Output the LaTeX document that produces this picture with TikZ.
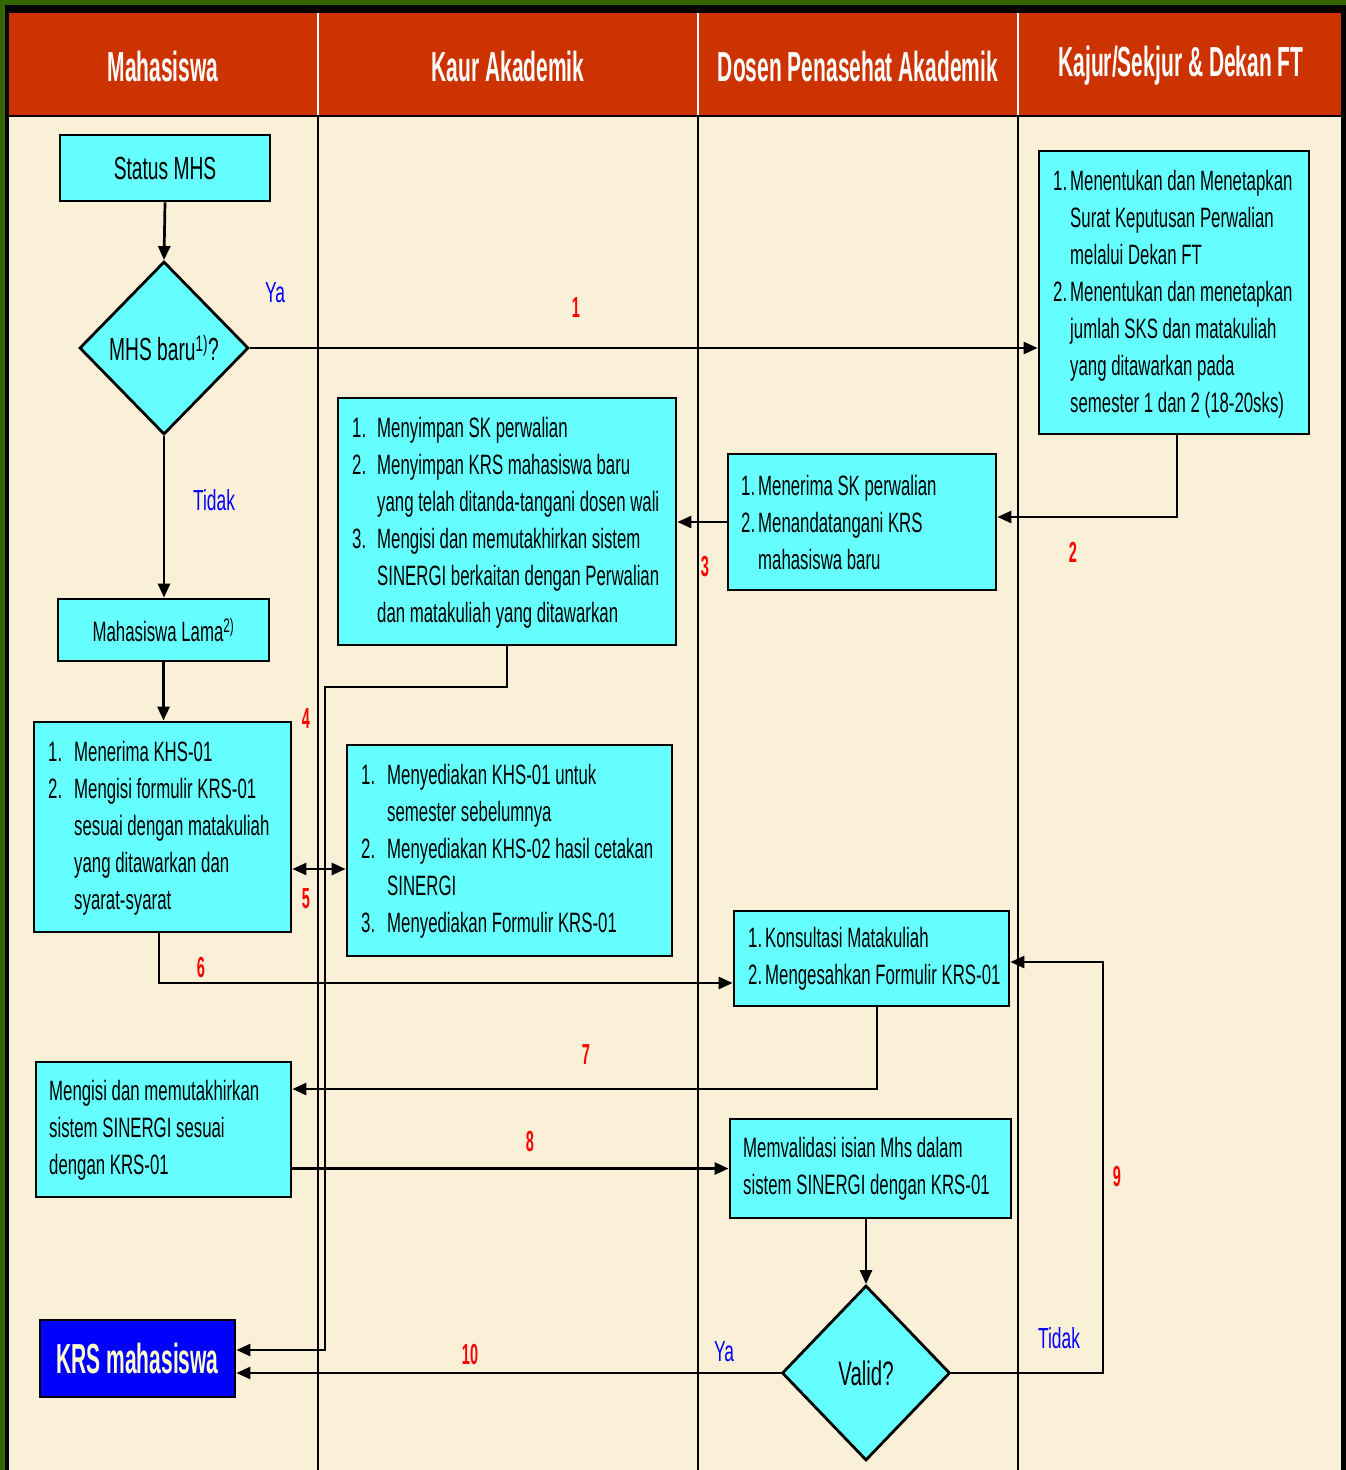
\documentclass[tikz,border=0pt]{standalone}
\usepackage{fontspec}
\setmainfont{Liberation Sans}[FakeStretch=0.6]
\newfontfamily\bnarrow{Liberation Sans}[FakeStretch=0.5]
\usetikzlibrary{arrows.meta,shapes.geometric}
\definecolor{bggreen}{RGB}{51,102,0}
\definecolor{hdred}{RGB}{204,51,0}
\definecolor{cream}{RGB}{250,240,216}
\definecolor{cyanc}{RGB}{102,255,255}
\definecolor{krsblue}{RGB}{0,0,255}
\definecolor{krstext}{RGB}{255,255,204}
\newcommand\nb[2]{\makebox[#1][l]{#2}}
\newcommand\ind[1]{\hspace*{#1}}
\tikzset{
  box/.style={draw=black, line width=2.8pt, fill=cyanc, inner sep=0pt},
  dia/.style={diamond, draw=black, line width=2.8pt, fill=cyanc, inner sep=0pt, aspect=1},
  txt/.style={font=\fontsize{28}{37}\selectfont, align=left, inner sep=0pt, anchor=west},
  arr/.style={line width=2.7pt, -{Triangle[length=14pt,width=12pt]}},
  dbl/.style={line width=2.7pt, {Triangle[length=14pt,width=12pt]}-{Triangle[length=14pt,width=12pt]}},
  lbl/.style={text=red, font=\bnarrow\bfseries\fontsize{29}{30}\selectfont, inner sep=0pt},
  yn/.style={text=blue, font=\fontsize{29}{30}\selectfont, inner sep=0pt},
  hd/.style={text=white, font=\bnarrow\bfseries\fontsize{42}{44}\selectfont, inner sep=0pt},
  lane/.style={line width=2pt}
}
\begin{document}
\begin{tikzpicture}[x=1pt,y=-1pt]
\useasboundingbox (0,0) rectangle (1346,1470);
% frame and background
\fill[bggreen] (0,0) rectangle (1346,1470);
\fill[black] (5,5) rectangle (1346,1470);
\fill[hdred] (9,13) rectangle (1341,115);
\fill[cream] (9,117) rectangle (1341,1470);
\foreach \x in {318,698,1018} {
  \draw[lane, white] (\x,13) -- (\x,115);
  \draw[lane, black] (\x,117) -- (\x,1470);
}
% headers
\node[hd] (h1) at (163,66) {Mahasiswa};
\node[hd] (h2) at (508,66) {Kaur Akademik};
\node[hd] (h3) at (858,66) {Dosen Penasehat Akademik};
\node[hd] (h4) at (1181,66) {Kajur/Sekjur \& Dekan FT};

% boxes
\node[box, minimum width=210pt, minimum height=66pt, font=\fontsize{32}{36}\selectfont] (st) at (165,168) {Status MHS};
\node[dia, minimum width=169pt, minimum height=173pt, font=\fontsize{32}{36}\selectfont] (d1) at (164,348) {MHS baru\textsuperscript{1)}?};
\node[box, minimum width=211pt, minimum height=62pt, font=\fontsize{28}{32}\selectfont] (ml) at (163.5,630) {Mahasiswa Lama\textsuperscript{2)}};
\node[box, minimum width=257pt, minimum height=210pt] (b4) at (162.5,827) {};
\node[box, minimum width=338pt, minimum height=247pt] (b5) at (507,521.5) {};
\node[box, minimum width=268pt, minimum height=136pt] (b6) at (862,522) {};
\node[box, minimum width=270pt, minimum height=283pt] (b7) at (1174,292.5) {};
\node[box, minimum width=325pt, minimum height=211pt] (b8) at (509.5,850.5) {};
\node[box, minimum width=275pt, minimum height=95pt] (b9) at (871.5,958.5) {};
\node[box, minimum width=255pt, minimum height=135pt] (b10) at (163.5,1129.5) {};
\node[box, minimum width=281pt, minimum height=99pt] (b11) at (870.5,1168.5) {};
\node[dia, minimum width=168pt, minimum height=175pt, font=\fontsize{34}{38}\selectfont] (d2) at (866,1373) {Valid?};
\node[box, fill=krsblue, minimum width=195pt, minimum height=77pt, text=krstext, font=\bnarrow\bfseries\fontsize{42}{46}\selectfont] (krs) at (137.5,1358.5) {KRS mahasiswa};

% box texts
\node[txt] (b4t) at (48,828) {\nb{26pt}{1.}Menerima KHS-01\\\nb{26pt}{2.}Mengisi formulir KRS-01\\\ind{26pt}sesuai dengan matakuliah\\\ind{26pt}yang ditawarkan dan\\\ind{26pt}syarat-syarat};
\node[txt] (b5t) at (352,522.5) {\nb{25pt}{1.}Menyimpan SK perwalian\\\nb{25pt}{2.}Menyimpan KRS mahasiswa baru\\\ind{25pt}yang telah ditanda-tangani dosen wali\\\nb{25pt}{3.}Mengisi dan memutakhirkan sistem\\\ind{25pt}SINERGI berkaitan dengan Perwalian\\\ind{25pt}dan matakuliah yang ditawarkan};
\node[txt] (b6t) at (741,522) {\nb{17pt}{1.}Menerima SK perwalian\\\nb{17pt}{2.}Menandatangani KRS\\\ind{17pt}mahasiswa baru};
\node[txt] (b7t) at (1053,294) {\nb{17pt}{1.}Menentukan dan Menetapkan\\\ind{17pt}Surat Keputusan Perwalian\\\ind{17pt}melalui Dekan FT\\\nb{17pt}{2.}Menentukan dan menetapkan\\\ind{17pt}jumlah SKS dan matakuliah\\\ind{17pt}yang ditawarkan pada\\\ind{17pt}semester 1 dan 2 (18-20sks)};
\node[txt] (b8t) at (361,851.5) {\nb{26pt}{1.}Menyediakan KHS-01 untuk\\\ind{26pt}semester sebelumnya\\\nb{26pt}{2.}Menyediakan KHS-02 hasil cetakan\\\ind{26pt}SINERGI\\\nb{26pt}{3.}Menyediakan Formulir KRS-01};
\node[txt] (b9t) at (748,959) {\nb{17pt}{1.}Konsultasi Matakuliah\\\nb{17pt}{2.}Mengesahkan Formulir KRS-01};
\node[txt] (b10t) at (49,1130) {Mengisi dan memutakhirkan\\sistem SINERGI sesuai\\dengan KRS-01};
\node[txt] (b11t) at (743,1169) {Memvalidasi isian Mhs dalam\\sistem SINERGI dengan KRS-01};

% helper coordinates
\coordinate (k2) at (1177,517);
\coordinate (k4a) at (507,687);
\coordinate (k4b) at (325,687);
\coordinate (k4c) at (325,1350);
\coordinate (k5) at (319,869);
\coordinate (k6) at (159,983);
\coordinate (k7) at (877,1089);
\coordinate (k9a) at (1103,1373);
\coordinate (k9b) at (1103,962);

% connectors
\draw[arr] (st.south) -- (d1.north);
\draw[arr] (d1.east) -- (d1.east -| b7.west);
\draw[arr] (d1.south) -- (d1.south |- ml.north);
\draw[arr] (b7.south -| k2) -- (k2) -- (k2 -| b6.east);
\draw[arr] (b6.west) -- (b6.west -| b5.east);
\draw[arr] (b5.south -| k4a) -- (k4a) -- (k4b) -- (k4c) -- (k4c -| krs.east);
\draw[arr] (ml.south) -- (ml.south |- b4.north);
\draw[dbl] (k5 -| b4.east) -- (k5 -| b8.west);
\draw[arr] (b4.south -| k6) -- (k6) -- (k6 -| b9.west);
\draw[arr] (b9.south -| k7) -- (k7) -- (k7 -| b10.east);
\draw[arr] (b11.west -| b10.east) -- (b11.west);
\draw[arr] (b11.south -| d2.north) -- (d2.north);
\draw[arr] (d2.east) -- (k9a) -- (k9b) -- (k9b -| b9.east);
\draw[arr] (d2.west) -- (d2.west -| krs.east);

% labels
\node[yn] (l_ya1) at (275,293) {Ya};
\node[lbl] (l1) at (576,308) {1};
\node[yn] (l_td1) at (214,500) {Tidak};
\node[lbl] (l2) at (1073,552) {2};
\node[lbl] (l3) at (705,567) {3};
\node[lbl] (l4) at (306,719) {4};
\node[lbl] (l5) at (306,899) {5};
\node[lbl] (l6) at (201,968) {6};
\node[lbl] (l7) at (586,1055) {7};
\node[lbl] (l8) at (530,1142) {8};
\node[lbl] (l9) at (1117,1177) {9};
\node[yn] (l_td2) at (1059,1338) {Tidak};
\node[yn] (l_ya2) at (724,1352) {Ya};
\node[lbl] (l10) at (470,1354) {10};
\end{tikzpicture}
\end{document}
